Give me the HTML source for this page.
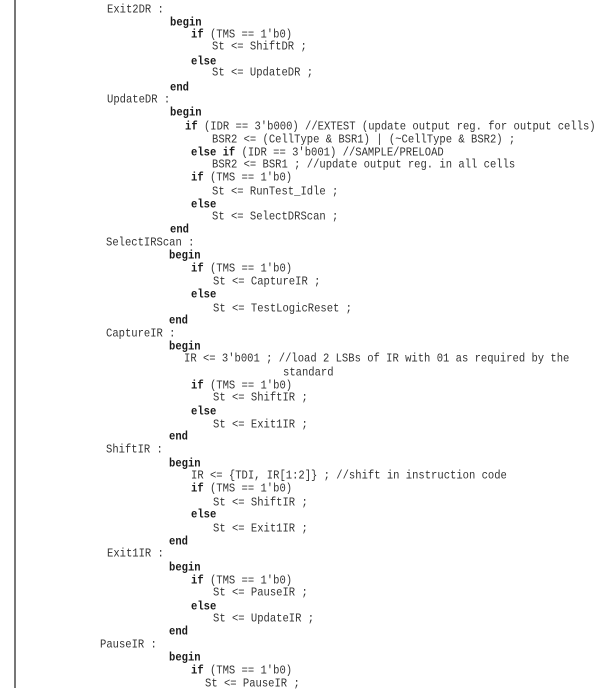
<!DOCTYPE html>
<html><head><meta charset="utf-8"><style>
html,body{margin:0;padding:0;background:#fff;}
body{width:602px;height:694px;position:relative;overflow:hidden;}
.l{position:absolute;font-family:"Liberation Mono",monospace;font-size:10.7px;line-height:14px;height:14px;white-space:pre;color:#333;transform:scale(0.985,1.15);transform-origin:0 50%;}
b{font-weight:bold;color:#1a1a1a;}
#bar{position:absolute;left:14px;top:0;width:2px;height:688px;background:#777;}
</style></head><body>
<div id="bar"></div>
<div class="l" style="left:107px;top:3px">Exit2DR :</div>
<div class="l" style="left:170px;top:16px"><b>begin</b></div>
<div class="l" style="left:191px;top:28px"><b>if</b> (TMS == 1'b0)</div>
<div class="l" style="left:212px;top:40px">St &lt;= ShiftDR ;</div>
<div class="l" style="left:191px;top:55px"><b>else</b></div>
<div class="l" style="left:212px;top:66px">St &lt;= UpdateDR ;</div>
<div class="l" style="left:170px;top:81px"><b>end</b></div>
<div class="l" style="left:107px;top:93px">UpdateDR :</div>
<div class="l" style="left:170px;top:106px"><b>begin</b></div>
<div class="l" style="left:185px;top:120px"><b>if</b> (IDR == 3'b000) //EXTEST (update output reg. for output cells)</div>
<div class="l" style="left:212px;top:133px">BSR2 &lt;= (CellType &amp; BSR1) | (~CellType &amp; BSR2) ;</div>
<div class="l" style="left:191px;top:146px"><b>else if</b> (IDR == 3'b001) //SAMPLE/PRELOAD</div>
<div class="l" style="left:212px;top:158px">BSR2 &lt;= BSR1 ; //update output reg. in all cells</div>
<div class="l" style="left:191px;top:171px"><b>if</b> (TMS == 1'b0)</div>
<div class="l" style="left:212px;top:185px">St &lt;= RunTest_Idle ;</div>
<div class="l" style="left:191px;top:198px"><b>else</b></div>
<div class="l" style="left:212px;top:210px">St &lt;= SelectDRScan ;</div>
<div class="l" style="left:170px;top:223px"><b>end</b></div>
<div class="l" style="left:106px;top:236px">SelectIRScan :</div>
<div class="l" style="left:169px;top:249px"><b>begin</b></div>
<div class="l" style="left:191px;top:262px"><b>if</b> (TMS == 1'b0)</div>
<div class="l" style="left:213px;top:275px">St &lt;= CaptureIR ;</div>
<div class="l" style="left:191px;top:288px"><b>else</b></div>
<div class="l" style="left:213px;top:302px">St &lt;= TestLogicReset ;</div>
<div class="l" style="left:169px;top:314px"><b>end</b></div>
<div class="l" style="left:106px;top:327px">CaptureIR :</div>
<div class="l" style="left:169px;top:340px"><b>begin</b></div>
<div class="l" style="left:184px;top:352px">IR &lt;= 3'b001 ; //load 2 LSBs of IR with 01 as required by the</div>
<div class="l" style="left:283px;top:366px">standard</div>
<div class="l" style="left:191px;top:379px"><b>if</b> (TMS == 1'b0)</div>
<div class="l" style="left:213px;top:391px">St &lt;= ShiftIR ;</div>
<div class="l" style="left:191px;top:405px"><b>else</b></div>
<div class="l" style="left:213px;top:418px">St &lt;= Exit1IR ;</div>
<div class="l" style="left:169px;top:430px"><b>end</b></div>
<div class="l" style="left:106px;top:443px">ShiftIR :</div>
<div class="l" style="left:169px;top:457px"><b>begin</b></div>
<div class="l" style="left:191px;top:469px">IR &lt;= {TDI, IR[1:2]} ; //shift in instruction code</div>
<div class="l" style="left:191px;top:482px"><b>if</b> (TMS == 1'b0)</div>
<div class="l" style="left:213px;top:496px">St &lt;= ShiftIR ;</div>
<div class="l" style="left:191px;top:508px"><b>else</b></div>
<div class="l" style="left:213px;top:522px">St &lt;= Exit1IR ;</div>
<div class="l" style="left:169px;top:535px"><b>end</b></div>
<div class="l" style="left:107px;top:547px">Exit1IR :</div>
<div class="l" style="left:169px;top:561px"><b>begin</b></div>
<div class="l" style="left:191px;top:574px"><b>if</b> (TMS == 1'b0)</div>
<div class="l" style="left:213px;top:586px">St &lt;= PauseIR ;</div>
<div class="l" style="left:191px;top:600px"><b>else</b></div>
<div class="l" style="left:213px;top:612px">St &lt;= UpdateIR ;</div>
<div class="l" style="left:169px;top:625px"><b>end</b></div>
<div class="l" style="left:100px;top:638px">PauseIR :</div>
<div class="l" style="left:169px;top:651px"><b>begin</b></div>
<div class="l" style="left:191px;top:664px"><b>if</b> (TMS == 1'b0)</div>
<div class="l" style="left:205px;top:677px">St &lt;= PauseIR ;</div>
</body></html>
